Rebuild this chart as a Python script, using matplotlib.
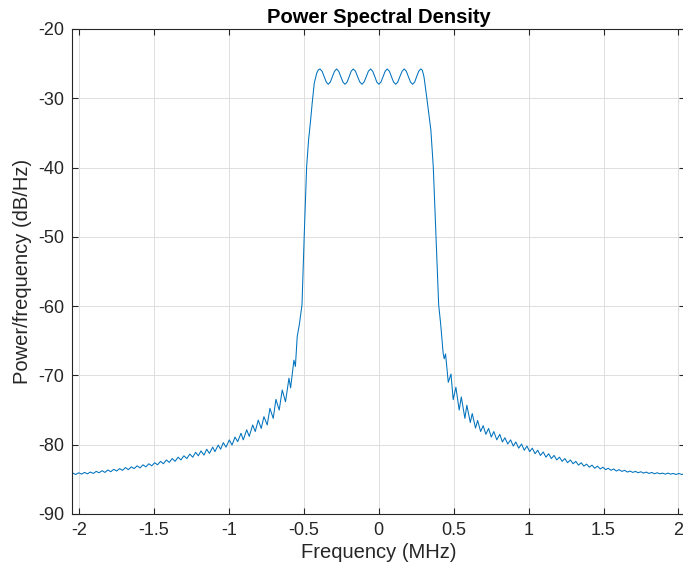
"""Power spectral density plot, MATLAB-like look."""

import matplotlib

matplotlib.use("Agg")
import matplotlib.pyplot as plt
import numpy as np

# ---- data (frequency in MHz, level in dB/Hz) ----
left_peak_f = [-0.599, -0.644, -0.686, -0.726, -0.766, -0.804, -0.841, -0.881, -0.919, -0.959,
               -0.997, -1.037, -1.071, -1.108, -1.148, -1.186, -1.222, -1.261, -1.300, -1.339,
               -1.378, -1.417, -1.456, -1.495, -1.534, -1.573, -1.612, -1.651, -1.690, -1.729,
               -1.768, -1.807, -1.846, -1.885, -1.924, -1.963, -2.002, -2.041]
left_peak_db = [-70.4, -72.1, -73.45, -74.75, -75.95, -76.45, -77.15, -77.85, -78.35, -78.9,
                -79.3, -79.7, -80.05, -80.35, -80.65, -80.9, -81.1, -81.35, -81.6, -81.8,
                -82.0, -82.2, -82.4, -82.6, -82.75, -82.9, -83.05, -83.2, -83.3, -83.45,
                -83.55, -83.65, -83.75, -83.85, -83.95, -84.0, -84.05, -84.1]
left_trough_f = [-0.588, -0.622, -0.664, -0.704, -0.744, -0.784, -0.824, -0.864, -0.904, -0.941,
                 -0.979, -1.019, -1.055, -1.093, -1.130, -1.166, -1.204, -1.241, -1.280, -1.320,
                 -1.359, -1.398, -1.437, -1.476, -1.515, -1.554, -1.593, -1.632, -1.671, -1.710,
                 -1.749, -1.788, -1.827, -1.866, -1.905, -1.944, -1.983, -2.022]
left_trough_db = [-71.8, -73.8, -75.0, -76.2, -77.15, -77.65, -78.1, -78.8, -79.3, -79.55,
                  -80.05, -80.35, -80.65, -81.0, -81.25, -81.5, -81.6, -81.8, -82.0, -82.2,
                  -82.4, -82.55, -82.75, -82.9, -83.05, -83.2, -83.35, -83.45, -83.6, -83.7,
                  -83.8, -83.9, -84.0, -84.05, -84.15, -84.2, -84.25, -84.3]

left_edge_f = [-0.566, -0.556, -0.544, -0.530, -0.512, -0.497, -0.481, -0.468, -0.456,
               -0.444, -0.430, -0.414, -0.403]
left_edge_db = [-67.8, -68.7, -64.4, -62.7, -59.8, -49.7, -39.9, -36.0, -33.5,
                -30.7, -27.8, -26.4, -25.9]

band_f = [-0.392, -0.378, -0.364, -0.350, -0.337, -0.323, -0.309, -0.295,
          -0.281, -0.267, -0.253, -0.239, -0.225, -0.211, -0.197, -0.184,
          -0.170, -0.155, -0.141, -0.126, -0.112, -0.098, -0.083, -0.069,
          -0.054, -0.040, -0.026, -0.013, 0.001, 0.015, 0.029, 0.043,
          0.057, 0.071, 0.085, 0.099, 0.113, 0.127, 0.141, 0.156,
          0.170, 0.184, 0.198, 0.212, 0.226, 0.240, 0.253, 0.267, 0.280]
band_db = [-25.77, -26.1, -26.88, -27.66, -27.98, -27.66, -26.88, -26.1,
           -25.77, -26.1, -26.88, -27.66, -27.98, -27.66, -26.88, -26.1,
           -25.77, -26.1, -26.88, -27.66, -27.98, -27.66, -26.88, -26.1,
           -25.77, -26.1, -26.88, -27.66, -27.98, -27.66, -26.88, -26.1,
           -25.77, -26.1, -26.88, -27.66, -27.98, -27.66, -26.88, -26.1,
           -25.77, -26.1, -26.88, -27.66, -27.98, -27.66, -26.88, -26.1, -25.77]

right_edge_f = [0.291, 0.302, 0.320, 0.337, 0.348, 0.364, 0.382, 0.400, 0.413,
                0.430, 0.437, 0.446]
right_edge_db = [-25.95, -26.9, -29.8, -32.7, -34.6, -39.9, -49.7, -59.8, -62.5,
                 -66.8, -67.6, -66.9]

right_peak_f = [0.482, 0.515, 0.551, 0.588, 0.624, 0.660, 0.697, 0.733, 0.768, 0.808,
                0.842, 0.880, 0.915, 0.953, 0.989, 1.025, 1.061, 1.098, 1.134, 1.170,
                1.206, 1.242, 1.279, 1.315, 1.351, 1.387, 1.423, 1.460, 1.496, 1.532,
                1.568, 1.604, 1.641, 1.677, 1.713, 1.749, 1.785, 1.822, 1.858, 1.894,
                1.930, 1.966, 2.003, 2.039]
right_peak_db = [-69.8, -71.7, -73.1, -74.3, -75.5, -76.5, -77.25, -77.65, -78.1, -78.5,
                 -79.0, -79.3, -79.6, -79.9, -80.2, -80.5, -80.8, -81.05, -81.3, -81.55,
                 -81.8, -82.0, -82.2, -82.4, -82.6, -82.8, -82.95, -83.1, -83.25, -83.4,
                 -83.5, -83.6, -83.7, -83.8, -83.85, -83.9, -83.95, -84.0, -84.05, -84.1,
                 -84.1, -84.15, -84.15, -84.2]
right_trough_f = [0.464, 0.497, 0.537, 0.575, 0.611, 0.646, 0.680, 0.715, 0.751, 0.788,
                  0.825, 0.861, 0.898, 0.934, 0.971, 1.007, 1.043, 1.079, 1.116, 1.152,
                  1.188, 1.224, 1.260, 1.297, 1.333, 1.369, 1.405, 1.441, 1.478, 1.514,
                  1.550, 1.586, 1.622, 1.659, 1.695, 1.731, 1.767, 1.803, 1.840, 1.876,
                  1.912, 1.948, 1.984, 2.021]
right_trough_db = [-71.0, -73.5, -75.0, -76.2, -76.8, -77.6, -78.1, -78.5, -78.9, -79.3,
                   -79.6, -79.9, -80.2, -80.5, -80.8, -81.0, -81.3, -81.55, -81.8, -82.0,
                   -82.2, -82.4, -82.6, -82.75, -82.95, -83.1, -83.25, -83.4, -83.5, -83.6,
                   -83.7, -83.8, -83.85, -83.95, -84.0, -84.05, -84.1, -84.15, -84.2, -84.2,
                   -84.25, -84.25, -84.3, -84.3]

x_ticks = [-2, -1.5, -1, -0.5, 0, 0.5, 1, 1.5, 2]
x_tick_labels = ["-2", "-1.5", "-1", "-0.5", "0", "0.5", "1", "1.5", "2"]
y_ticks = [-90, -80, -70, -60, -50, -40, -30, -20]

MATLAB_BLUE = "#0072BD"
AX_COLOR = "#262626"

plt.rcParams["font.family"] = ["Liberation Sans", "DejaVu Sans"]
plt.rcParams["axes.unicode_minus"] = False

# stitch the pieces together and sort along frequency
freq = np.concatenate([left_peak_f, left_trough_f, left_edge_f, band_f,
                       right_edge_f, right_peak_f, right_trough_f])
psd = np.concatenate([left_peak_db, left_trough_db, left_edge_db, band_db,
                      right_edge_db, right_peak_db, right_trough_db])
order = np.argsort(freq)
freq, psd = freq[order], psd[order]

fig = plt.figure(figsize=(6.83, 5.75), dpi=100)
ax = fig.add_axes([0.1058, 0.1061, 0.8974, 0.8435])

ax.plot(freq, psd, color=MATLAB_BLUE, linewidth=0.75)

ax.set_xlim(-2.045, 2.045)
ax.set_ylim(-90, -20)
ax.set_xticks(x_ticks)
ax.set_xticklabels(x_tick_labels)
ax.set_yticks(y_ticks)

ax.grid(True, color="#DFDFDF", linewidth=0.7)
ax.set_axisbelow(True)
for side in ax.spines.values():
    side.set_color(AX_COLOR)
    side.set_linewidth(0.8)
ax.tick_params(direction="in", length=4, width=0.8, top=True, right=True,
               colors=AX_COLOR, labelsize=13, pad=6)

ax.set_xlabel("Frequency (MHz)", fontsize=14.5, color=AX_COLOR, labelpad=3)
ax.set_ylabel("Power/frequency (dB/Hz)", fontsize=14.5, color=AX_COLOR, labelpad=4)
ax.set_title("Power Spectral Density", fontsize=14.5, fontweight="bold", pad=4)

fig.savefig("out.png", dpi=100)
plt.close(fig)
